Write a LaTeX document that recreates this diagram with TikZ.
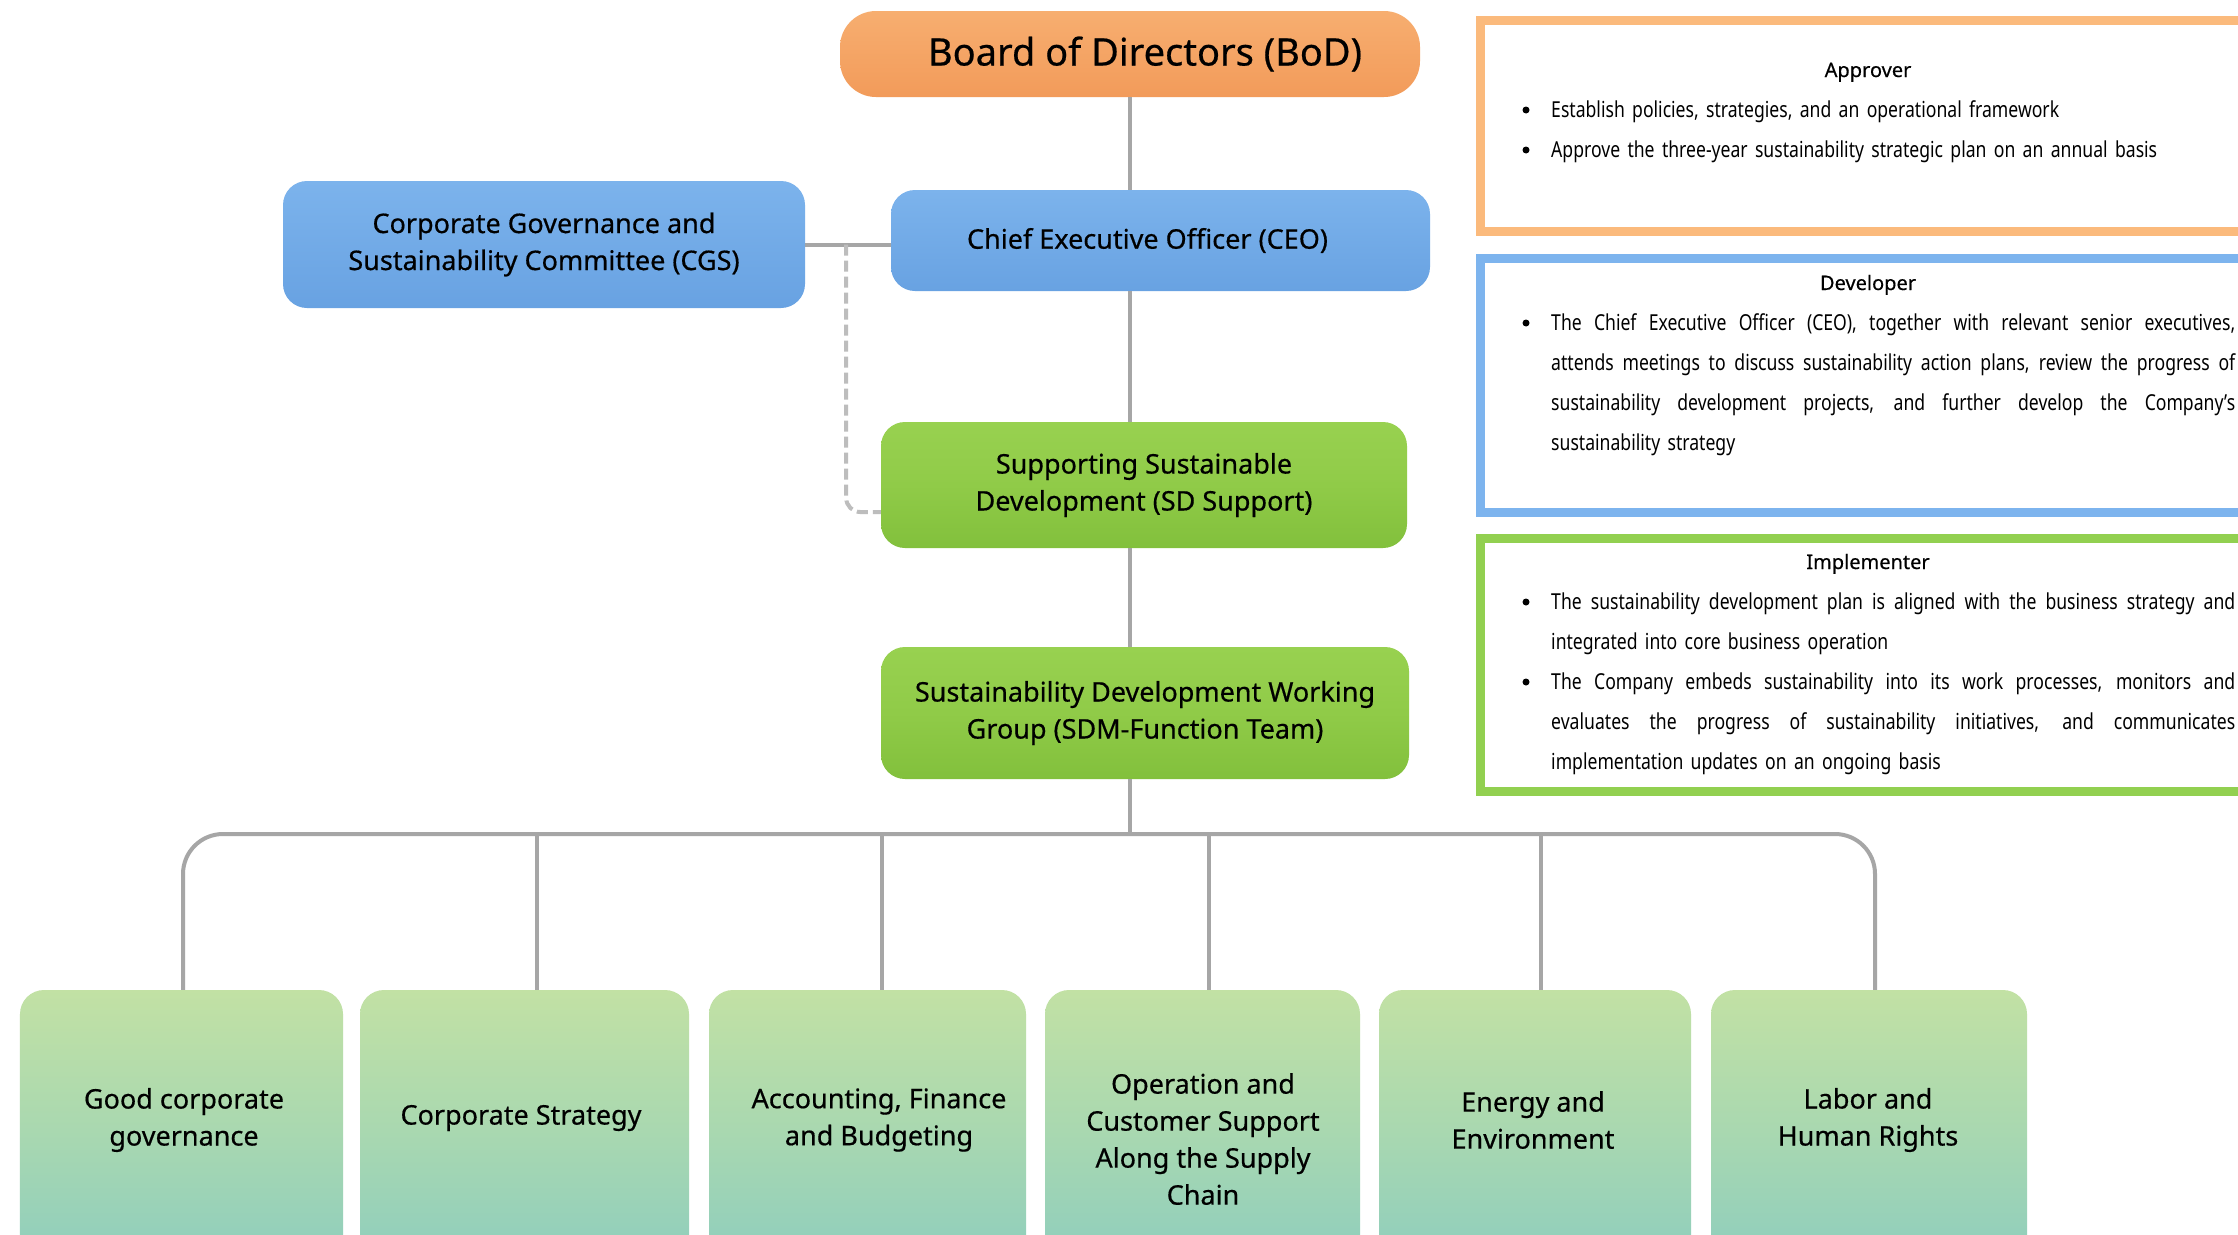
\documentclass[tikz,border=0pt]{standalone}
\usepackage{fontspec}
\setmainfont{Noto Sans}
\newfontfamily\narrowfont[FakeStretch=0.8]{Noto Sans}
\newfontfamily\labelfamily[FakeBold=0.5]{Noto Sans}
\usetikzlibrary{calc}

% palette
\definecolor{linegray}{HTML}{A6A6A6}
\definecolor{dashgray}{HTML}{BDBDBD}
\definecolor{bodA}{HTML}{F7AE70}
\definecolor{bodB}{HTML}{F29B5A}
\definecolor{blueA}{HTML}{7CB3EC}
\definecolor{blueB}{HTML}{68A2E2}
\definecolor{greenA}{HTML}{98D150}
\definecolor{greenM}{HTML}{90CB48}
\definecolor{greenB}{HTML}{82C03C}
\definecolor{paleA}{HTML}{C2E1A4}
\definecolor{paleM}{HTML}{A9D8B0}
\definecolor{paleB}{HTML}{8DCDBE}
\definecolor{apprC}{HTML}{FBBA7C}
\definecolor{devC}{HTML}{7DB4EE}
\definecolor{implC}{HTML}{92D050}

\newcommand\lblfont{\labelfamily\fontsize{27bp}{37bp}\selectfont}
\newcommand\bodfont{\labelfamily\fontsize{38bp}{42bp}\selectfont}
\newcommand\headfont{\labelfamily\fontsize{20bp}{40bp}\selectfont}
\newcommand\bodytext{\narrowfont\fontsize{22bp}{40bp}\selectfont}

\tikzset{
  card/.style={rounded corners=24bp, inner sep=0pt, align=center, font=\lblfont, text=black},
  bodcard/.style={card, rounded corners=36bp, top color=bodA, bottom color=bodB, font=\bodfont},
  bluecard/.style={card, top color=blueA, bottom color=blueB},
  greencard/.style={card, top color=greenA, bottom color=greenB, middle color=greenM},
  unitcard/.style={card, top color=paleA, bottom color=paleB, middle color=paleM},
  unitlabel/.style={align=center, font=\lblfont, inner sep=0pt},
  conn/.style={draw=linegray, line width=4bp},
  dashlink/.style={draw=dashgray, line width=4bp, dash pattern=on 11bp off 5bp, rounded corners=14bp},
  panelframe/.style={draw, line width=9bp, inner sep=0pt, outer sep=0pt, anchor=north west, minimum width=800bp},
  panelhead/.style={font=\headfont, anchor=base, inner sep=0pt},
  bulletmark/.style={circle, fill=black, inner sep=0pt, minimum size=7bp},
  paneltext/.style={font=\bodytext, anchor=base west, inner sep=0pt, text width=684bp, align=left}
}

% one line spread over the full text width (word spaces made stretchable here)
\newcommand\fullline[1]{\leavevmode\hbox to 684bp{\spaceskip=0.3333em plus 1em minus 0.05em\relax
  \xspaceskip=0.3333em plus 1em minus 0.05em\relax #1}}

\begin{document}
\begin{tikzpicture}[x=1bp,y=-1bp]
\clip (0,0) rectangle (2238,1234);
\fill[white] (0,0) rectangle (2238,1234);

% ---- hierarchy boxes
\node[bodcard, minimum width=580bp, minimum height=86bp] (bod) at (1130,54) {\hspace*{30bp}Board of Directors (BoD)};
\node[bluecard, minimum width=539bp, minimum height=101bp] (ceo) at (1160.5,240.5) {Chief Executive Officer (CEO)\hspace*{26bp}};
\node[bluecard, minimum width=522bp, minimum height=127bp] (cgs) at (544,244.5) {Corporate Governance and\\Sustainability Committee (CGS)};
\node[greencard, minimum width=526bp, minimum height=126bp] (sds) at (1144,485) {Supporting Sustainable\\Development (SD Support)};
\node[greencard, minimum width=528bp, minimum height=132bp] (sdm) at (1145,713) {Sustainability Development Working\\Group (SDM-Function Team)};

% ---- function teams
\node[unitcard, minimum width=323bp, minimum height=280bp] (u1) at (181.5,1130) {};
\node[unitcard, minimum width=329bp, minimum height=280bp] (u2) at (524.5,1130) {};
\node[unitcard, minimum width=317bp, minimum height=280bp] (u3) at (867.5,1130) {};
\node[unitcard, minimum width=315bp, minimum height=280bp] (u4) at (1202.5,1130) {};
\node[unitcard, minimum width=312bp, minimum height=280bp] (u5) at (1535,1130) {};
\node[unitcard, minimum width=316bp, minimum height=280bp] (u6) at (1869,1130) {};

\node[unitlabel] (t1) at (184,1120) {Good corporate\\governance};
\node[unitlabel] (t2) at (521,1118) {Corporate Strategy};
\node[unitlabel] (t3) at (879,1120) {Accounting, Finance\\and Budgeting};
\node[unitlabel] (t4) at (1203,1139) {Operation and\\Customer Support\\Along the Supply\\Chain};
\node[unitlabel] (t5) at (1533,1120) {Energy and\\Environment};
\node[unitlabel] (t6) at (1868,1120) {Labor and\\Human Rights};

% ---- connectors
\draw[conn] (bod.south) -- (bod.south |- ceo.north);
\draw[conn] (ceo.south -| bod.south) -- (sds.north -| bod.south);
\draw[conn] (sds.south -| bod.south) -- (sdm.north -| bod.south);
\coordinate (bus) at (bod.south |- 0,834);
\draw[conn] (sdm.south -| bod.south) -- (bus);

\coordinate (d1) at ([xshift=1.5bp]u1.north);
\coordinate (d2) at ([xshift=12.5bp]u2.north);
\coordinate (d3) at ([xshift=14.5bp]u3.north);
\coordinate (d4) at ([xshift=6.5bp]u4.north);
\coordinate (d5) at ([xshift=6bp]u5.north);
\coordinate (d6) at ([xshift=6bp]u6.north);
\draw[conn, rounded corners=40bp] (d1) -- (d1 |- bus) -- (d6 |- bus) -- (d6);
\foreach \k in {2,...,5} \draw[conn] (d\k |- bus) -- (d\k);

\draw[conn] (cgs.east) -- (cgs.east -| ceo.west);
\coordinate (tap) at ([xshift=41bp]cgs.east);
\draw[dashlink] (tap) |- ([yshift=-27bp]sds.west);

% ---- role panels
\node[panelframe, draw=apprC, minimum height=211bp] (appr) at (1480.5,20.5) {};
\node[panelframe, draw=devC, minimum height=254bp] (dev) at (1480.5,258.5) {};
\node[panelframe, draw=implC, minimum height=253bp] (impl) at (1480.5,538.5) {};

\node[panelhead] (apprH) at (1868,77) {Approver};
\node[bulletmark] (ab1) at (1526,110) {};
\node[paneltext] (at1) at (1551,117) {Establish policies, strategies, and an operational framework};
\node[bulletmark] (ab2) at (1526,150) {};
\node[paneltext] (at2) at (1551,157) {Approve the three-year sustainability strategic plan on an annual basis};

\node[panelhead] (devH) at (1868,290) {Developer};
\node[bulletmark] (db1) at (1526,323) {};
\node[paneltext] (dt1) at (1551,330) {%
\fullline{The Chief Executive Officer (CEO), together with relevant senior executives,}\\
\fullline{attends meetings to discuss sustainability action plans, review the progress of}\\
\fullline{sustainability development projects, and further develop the Company’s}\\
sustainability strategy};

\node[panelhead] (implH) at (1868,569) {Implementer};
\node[bulletmark] (ib1) at (1526,602) {};
\node[paneltext] (it1) at (1551,609) {%
\fullline{The sustainability development plan is aligned with the business strategy and}\\
integrated into core business operation};
\node[bulletmark] (ib2) at (1526,682) {};
\node[paneltext] (it2) at (1551,689) {%
\fullline{The Company embeds sustainability into its work processes, monitors and}\\
\fullline{evaluates the progress of sustainability initiatives, and communicates}\\
implementation updates on an ongoing basis};
\end{tikzpicture}
\end{document}
